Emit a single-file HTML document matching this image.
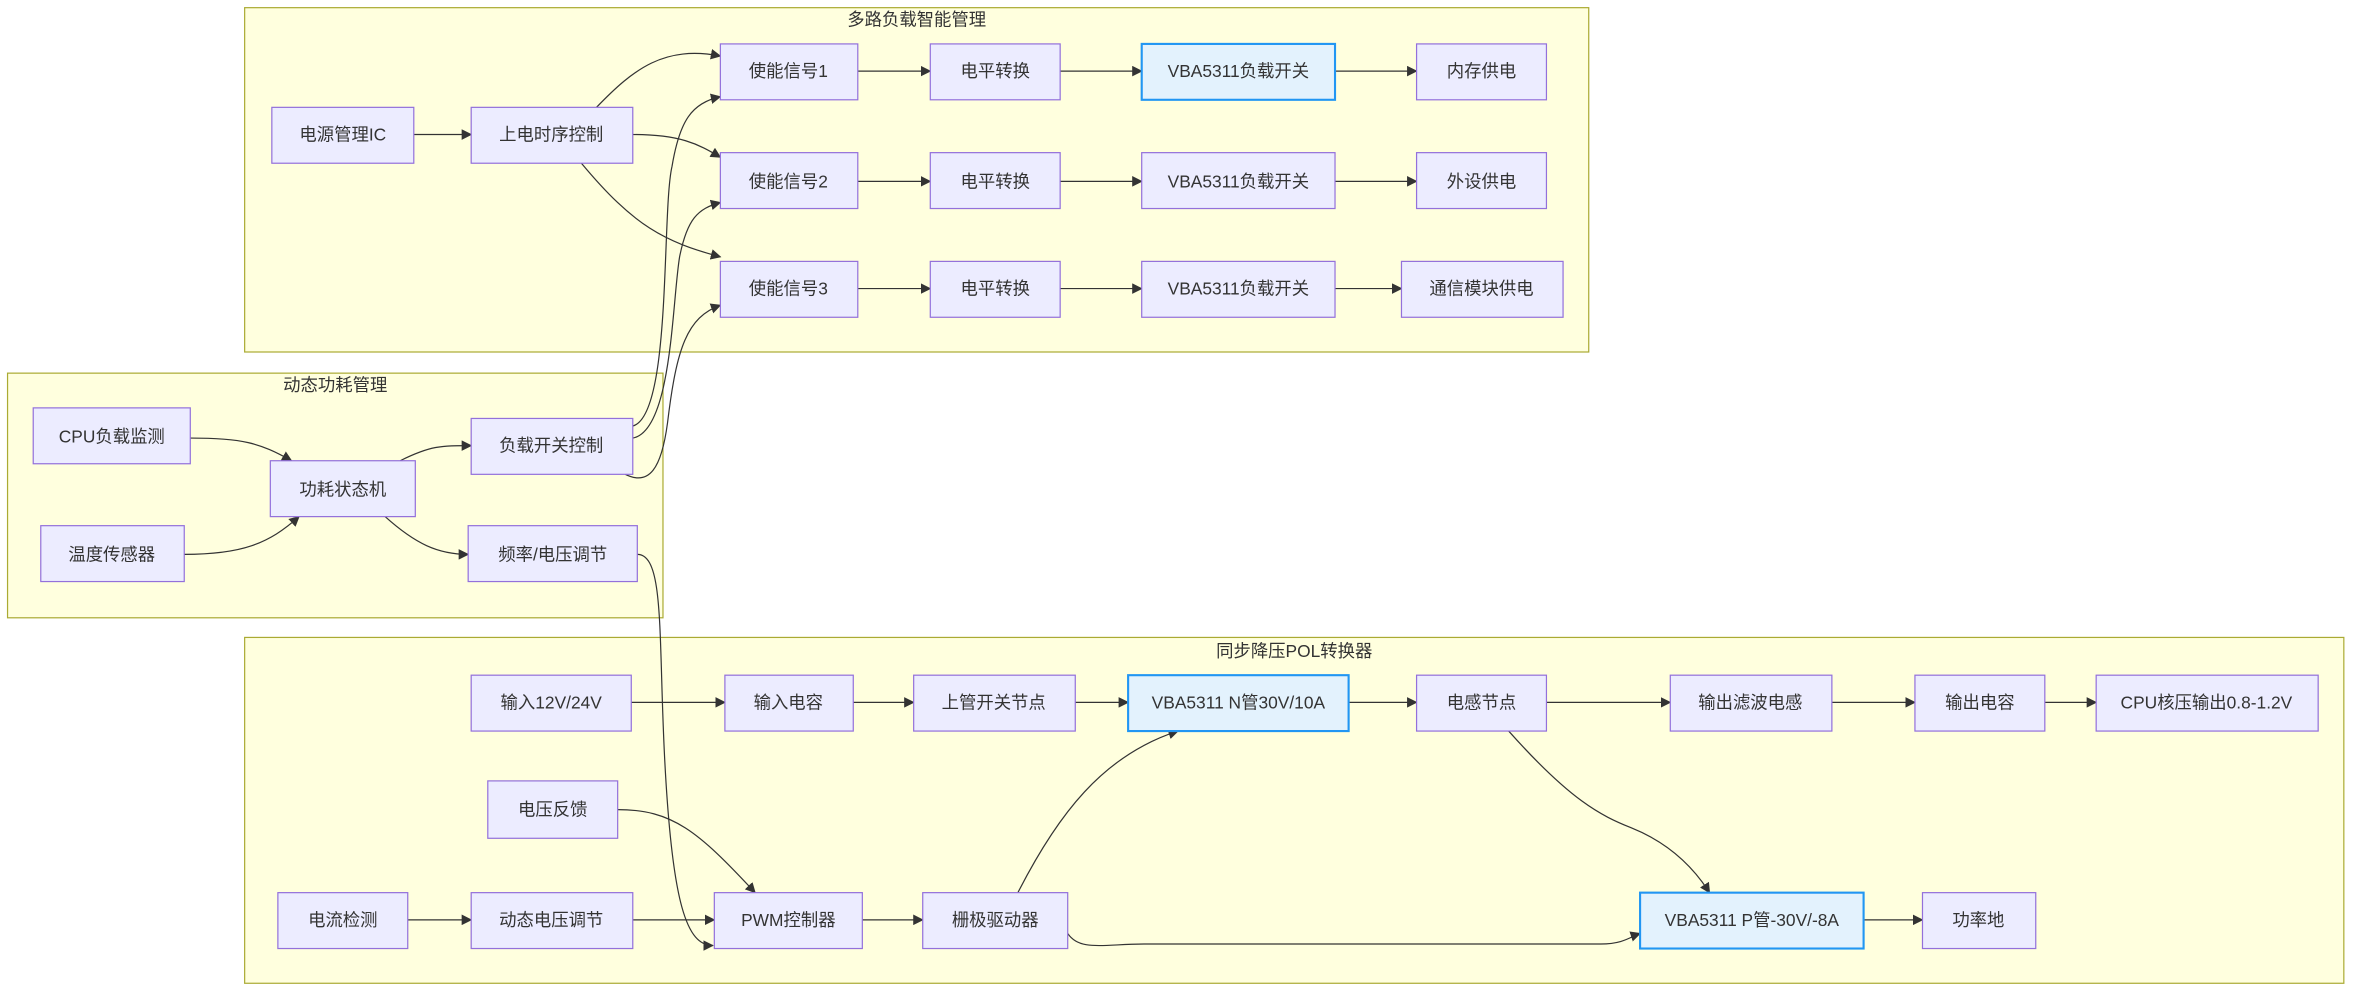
<!DOCTYPE html>
<html><head><meta charset="utf-8"><style>
html,body{margin:0;padding:0;background:#fff;}
svg{display:block;}
text{font-family:"Liberation Sans","Noto Sans CJK SC",sans-serif;font-size:11.5px;fill:#333;text-anchor:middle;dominant-baseline:central;}
.c{fill:#ffffde;stroke:#aaaa33;stroke-width:0.8;}
.n{fill:#ececff;stroke:#9370db;stroke-width:0.8;}
.b{fill:#e3f2fd;stroke:#2196f3;stroke-width:1.4;}
.e{fill:none;stroke:#333;stroke-width:0.8;marker-end:url(#a);}
</style></head><body>
<svg width="2368" height="1000" viewBox="0 0 1568 662" xmlns="http://www.w3.org/2000/svg">
<defs><marker id="a" viewBox="0 0 10 10" refX="9" refY="5" markerWidth="7" markerHeight="7" orient="auto" markerUnits="userSpaceOnUse"><path d="M0,0L10,5L0,10z" fill="#333"/></marker></defs>
<rect class="c" x="162" y="5" width="890" height="228"/>
<text x="607" y="13">多路负载智能管理</text>
<rect class="c" x="5" y="247" width="434" height="162"/>
<text x="222" y="255">动态功耗管理</text>
<rect class="c" x="162" y="422" width="1390" height="229"/>
<text x="857" y="431">同步降压POL转换器</text>

<!-- edges -->
<path class="e" d="M274,89L312,89"/>
<path class="e" d="M395,71C420,45 440,30 477,37"/>
<path class="e" d="M419,89C450,89 462,95 477,104"/>
<path class="e" d="M385,108C420,150 440,160 477,170"/>
<path class="e" d="M419,282C445,275 438,140 445,110C450,80 458,68 477,64"/>
<path class="e" d="M419,290C445,285 445,200 450,170C455,145 462,138 477,134"/>
<path class="e" d="M414,314C430,322 438,310 442,280C448,230 455,210 477,202"/>
<path class="e" d="M568,47L616,47"/><path class="e" d="M702,47L756,47"/><path class="e" d="M884,47L938,47"/>
<path class="e" d="M568,120L616,120"/><path class="e" d="M702,120L756,120"/><path class="e" d="M884,120L938,120"/>
<path class="e" d="M568,191L616,191"/><path class="e" d="M702,191L756,191"/><path class="e" d="M884,191L928,191"/>
<path class="e" d="M126,290C160,290 172,293 193,305"/>
<path class="e" d="M122,367C160,367 178,360 198,342"/>
<path class="e" d="M265,305C285,295 292,295 312,295"/>
<path class="e" d="M255,342C275,360 290,367 310,367"/>
<path class="e" d="M422,367C440,367 436,420 440,500C445,600 455,626 472,626"/>
<path class="e" d="M418,465L480,465"/><path class="e" d="M565,465L605,465"/><path class="e" d="M712,465L747,465"/>
<path class="e" d="M893,465L938,465"/><path class="e" d="M1024,465L1106,465"/><path class="e" d="M1213,465L1268,465"/><path class="e" d="M1354,465L1388,465"/>
<path class="e" d="M409,536C445,536 462,550 500,591"/>
<path class="e" d="M270,609L312,609"/><path class="e" d="M419,609L473,609"/><path class="e" d="M571,609L611,609"/>
<path class="e" d="M674,591C700,540 730,500 780,484"/>
<path class="e" d="M707,618C715,630 730,625 760,625L1060,625C1075,625 1080,620 1086,618"/>
<path class="e" d="M999,484C1040,530 1060,540 1080,548C1110,560 1125,580 1132,591"/>
<path class="e" d="M1234,609L1273,609"/>

<!-- nodes -->
<rect class="n" x="180" y="71" width="94" height="37"/><text x="227" y="89">电源管理IC</text>
<rect class="n" x="312" y="71" width="107" height="37"/><text x="365" y="89">上电时序控制</text>
<rect class="n" x="477" y="29" width="91" height="37"/><text x="522" y="47">使能信号1</text>
<rect class="n" x="477" y="101" width="91" height="37"/><text x="522" y="120">使能信号2</text>
<rect class="n" x="477" y="173" width="91" height="37"/><text x="522" y="191">使能信号3</text>
<rect class="n" x="616" y="29" width="86" height="37"/><text x="659" y="47">电平转换</text>
<rect class="n" x="616" y="101" width="86" height="37"/><text x="659" y="120">电平转换</text>
<rect class="n" x="616" y="173" width="86" height="37"/><text x="659" y="191">电平转换</text>
<rect class="b" x="756" y="29" width="128" height="37"/><text x="820" y="47">VBA5311负载开关</text>
<rect class="n" x="756" y="101" width="128" height="37"/><text x="820" y="120">VBA5311负载开关</text>
<rect class="n" x="756" y="173" width="128" height="37"/><text x="820" y="191">VBA5311负载开关</text>
<rect class="n" x="938" y="29" width="86" height="37"/><text x="981" y="47">内存供电</text>
<rect class="n" x="938" y="101" width="86" height="37"/><text x="981" y="120">外设供电</text>
<rect class="n" x="928" y="173" width="107" height="37"/><text x="981" y="191">通信模块供电</text>

<rect class="n" x="22" y="270" width="104" height="37"/><text x="74" y="289">CPU负载监测</text>
<rect class="n" x="27" y="348" width="95" height="37"/><text x="74" y="367">温度传感器</text>
<rect class="n" x="179" y="305" width="96" height="37"/><text x="227" y="324">功耗状态机</text>
<rect class="n" x="312" y="277" width="107" height="37"/><text x="365" y="295">负载开关控制</text>
<rect class="n" x="310" y="348" width="112" height="37"/><text x="366" y="367">频率/电压调节</text>

<rect class="n" x="312" y="447" width="106" height="37"/><text x="365" y="465">输入12V/24V</text>
<rect class="n" x="480" y="447" width="85" height="37"/><text x="522" y="465">输入电容</text>
<rect class="n" x="605" y="447" width="107" height="37"/><text x="658" y="465">上管开关节点</text>
<rect class="b" x="747" y="447" width="146" height="37"/><text x="820" y="465">VBA5311 N管30V/10A</text>
<rect class="n" x="938" y="447" width="86" height="37"/><text x="981" y="465">电感节点</text>
<rect class="n" x="1106" y="447" width="107" height="37"/><text x="1159" y="465">输出滤波电感</text>
<rect class="n" x="1268" y="447" width="86" height="37"/><text x="1311" y="465">输出电容</text>
<rect class="n" x="1388" y="447" width="147" height="37"/><text x="1461" y="465">CPU核压输出0.8-1.2V</text>
<rect class="n" x="323" y="517" width="86" height="38"/><text x="366" y="536">电压反馈</text>
<rect class="n" x="184" y="591" width="86" height="37"/><text x="227" y="609">电流检测</text>
<rect class="n" x="312" y="591" width="107" height="37"/><text x="365" y="609">动态电压调节</text>
<rect class="n" x="473" y="591" width="98" height="37"/><text x="522" y="609">PWM控制器</text>
<rect class="n" x="611" y="591" width="96" height="37"/><text x="659" y="609">栅极驱动器</text>
<rect class="b" x="1086" y="591" width="148" height="37"/><text x="1160" y="609">VBA5311 P管-30V/-8A</text>
<rect class="n" x="1273" y="591" width="75" height="37"/><text x="1310" y="609">功率地</text>
</svg>
</body></html>
